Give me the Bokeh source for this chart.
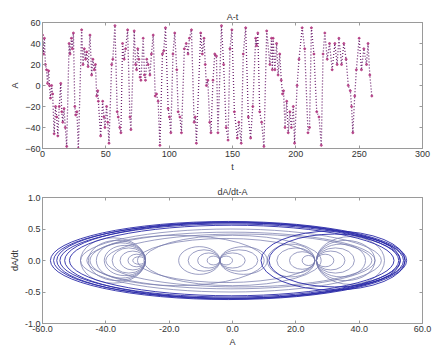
from bokeh.plotting import figure
from bokeh.layouts import column
from bokeh.models import LinearAxis, FixedTicker, ColumnDataSource
from bokeh.embed import file_html
from bokeh.resources import INLINE

# ---------------- data ----------------
# top panel: turning points of A(t)
t_vals = [0, 0.8, 1.5, 2.3, 3.2, 4, 4.8, 5.5, 6.3, 7.2, 8.0, 9.2, 10.3, 11.2, 12.1, 13.2, 14.4,
          15.2, 16.0, 17.0, 18.0, 19.1, 21.0, 21.8, 22.8, 23.6, 24.4, 25.5, 26.2, 27.2, 28.3,
          30.9, 32.0, 33.0, 34.0, 34.9, 36.0, 37.5, 38.8, 39.8, 40.9, 41.8, 42.8, 43.6, 44.1,
          45.9, 47.5, 48.5, 49.3, 50.6, 51.5, 52.5, 54.6, 55.5, 57.2, 59.0, 59.8, 61.0, 61.9,
          63.2, 64.5, 65.6, 67.2, 69.0, 69.8, 72.4, 73.5, 74.3, 75.2, 76.1, 77.0, 77.7, 79.5,
          80.5, 81.3, 82.3, 83.4, 84.8, 86.0, 87.4, 89.0, 90.0, 91.3, 92.7, 94.7, 95.7, 97.1,
          99.2, 100.2, 101.3, 103.0, 104.4, 106.0, 107.1, 108.5, 109.7, 112.0, 113.5, 114.9,
          116.0, 117.6, 119.7, 120.6, 121.5, 124.9, 126.2, 127.5, 128.5, 129.4, 130.5, 132.0,
          133.0, 134.6, 136.0, 137.3, 138.5, 141.3, 143.0, 145.0, 146.5, 148.0, 149.5, 151.5,
          153.8, 155.0, 156.9, 158.5, 160.4, 162.5, 164.3, 166.0, 168.3, 169.0, 170.0, 171.5,
          173.0, 174.8, 177.0, 179.5, 180.8, 181.5, 182.1, 183.5, 184.8, 186.0, 187.3, 188.5,
          189.5, 190.3, 191.5, 192.8, 194.0, 195.3, 196.5, 198.0, 199.0, 201.0, 202.5, 205.0,
          207.0, 209.6, 210.8, 212.3, 214.3, 216.5, 218.3, 220.1, 221.5, 222.9, 224.8, 226.6,
          228.7, 230.8, 232.6, 234.0, 236.1, 237.9, 239.7, 241.4, 243.0, 244.0, 245.0, 246.5,
          247.8, 250.0, 251.8, 253.7, 255.8, 257.0, 258.4, 260.0]
A_vals = [48, 30, 45, 20, 15, 2, 14, 0, -12, 0, -8, -46, -20, -30, -48, -20, 2,
          -25, -35, -22, -40, -58, 40, 30, 45, 35, 50, -20, -28, -25, -60,
          53, 20, 35, 25, 32, 18, 48, 10, 25, 15, 20, -10, -5, -15,
          -48, -15, -30, -40, -20, -35, -55, 20, 25, 57, -25, -30, -40, -45,
          40, 25, 35, 53, -30, -42, 52, 20, 15, 35, 25, 8, 5, 45,
          10, 5, 25, 20, 10, 30, 48, -10, -8, -15, -57, 30, 33, 55,
          -22, -30, -45, 30, 50, 15, -25, -30, -45, 35, 40, 30,
          45, 53, -35, -30, -55, 50, 30, 45, 20, 0, 5, -35,
          -45, 5, 30, 28, -45, 57, 20, -40, -52, 35, 53, -25,
          -50, -35, -55, 30, 55, -30, -50, -20, 45, 38, 50, -25,
          -35, -58, 52, 20, 45, 15, 45, 15, 40, 10, 30, 5,
          -8, -5, -40, -15, -45, -25, -40, -20, -55, 0, 25, 55,
          35, -45, -40, 55, 30, -25, -30, -57, 30, 50, 25, 40,
          15, 40, 20, 45, 20, 40, 25, 0, -5, -20, -45, -10,
          15, 45, 15, 35, 20, 40, 10, -10]

t_ticks = [0, 50, 100, 150, 200, 250, 300]
A_ticks = [-60, -40, -20, 0, 20, 40, 60]

# bottom panel: closed orbits in the (A, dA/dt) plane: left edge, right edge, peak dA/dt
outer_left = [-57.5, -56.5, -55.5, -54.5, -53.0, -51.5, 9.0, 11.5]
outer_right = [55.0, 54.5, 54.0, 53.0, 52.5, 51.0, 54.5, 53.0]
outer_vmax = [0.62, 0.60, 0.61, 0.58, 0.60, 0.56, 0.47, 0.42]

inner_left = [-31.5, -33.0, -35.5, -38.0, -40.5, -43.0, -45.5, -48.0,
              -8.0, -11.0, -14.0, -17.0, -4.0, -4.0, -4.0, -4.0,
              22.0, 18.0, 14.0, 11.0, 26.5, 26.5, 26.5, 26.5, 26.5, 26.5,
              -48.0, -46.0, -40.0, -30.0, -28.0, -45.0]
inner_right = [-27.5, -27.5, -27.5, -27.5, -27.5, -27.5, -27.5, -27.5,
               -4.0, -4.0, -4.0, -4.0, 0.0, 4.0, 8.0, 11.0,
               26.0, 26.0, 26.0, 26.0, 32.0, 35.5, 38.5, 42.0, 45.0, 48.0,
               47.0, 45.0, 44.0, 26.0, 28.0, 10.0]
inner_vmax = [0.06, 0.10, 0.15, 0.20, 0.24, 0.28, 0.32, 0.36,
              0.07, 0.12, 0.17, 0.22, 0.07, 0.12, 0.17, 0.22,
              0.08, 0.14, 0.20, 0.26, 0.10, 0.15, 0.20, 0.26, 0.32, 0.38,
              0.50, 0.45, 0.42, 0.35, 0.40, 0.40]

x2_ticks = [-60, -40, -20, 0, 20, 40, 60]
x2_labels = ["-60.0", "-40.0", "-20.0", "0.0", "20.0", "40.0", "60.0"]
y2_ticks = [-1.0, -0.5, 0.0, 0.5, 1.0]
y2_labels = ["-1.0", "-0.5", "0.0", "0.5", "1.0"]

FONT = "Liberation Sans"
TXT = "#333333"
FRAME = "#9a9a9a"


def style(p, xt, yt, xl=None, yl=None):
    p.grid.visible = False
    p.outline_line_color = FRAME
    p.title.align = "center"
    p.title.text_font = FONT
    p.title.text_font_size = "9px"
    p.title.text_font_style = "normal"
    p.title.text_color = TXT
    p.title.standoff = 2
    for ax in p.xaxis:
        ax.ticker = FixedTicker(ticks=xt)
        if xl:
            ax.major_label_overrides = {k: v for k, v in zip(xt, xl)}
    for ax in p.yaxis:
        ax.ticker = FixedTicker(ticks=yt)
        if yl:
            ax.major_label_overrides = {k: v for k, v in zip(yt, yl)}
    for ax in p.xaxis + p.yaxis:
        ax.axis_line_color = FRAME
        ax.major_tick_line_color = FRAME
        ax.major_tick_in = 3
        ax.major_tick_out = 0
        ax.minor_tick_line_color = None
        ax.major_label_text_font = FONT
        ax.major_label_text_font_size = "9px"
        ax.major_label_text_color = TXT
        ax.axis_label_text_font = FONT
        ax.axis_label_text_font_size = "9px"
        ax.axis_label_text_font_style = "normal"
        ax.axis_label_text_color = TXT
        ax.major_label_standoff = 2
        ax.axis_label_standoff = 2
    # mirrored inward ticks on top and right (no labels)
    for loc, tk in (("above", xt), ("right", yt)):
        a = LinearAxis(ticker=FixedTicker(ticks=tk))
        a.axis_line_color = FRAME
        a.major_tick_line_color = FRAME
        a.major_tick_in = 3
        a.major_tick_out = 0
        a.minor_tick_line_color = None
        a.major_label_text_color = None
        a.major_label_text_font_size = "1px"
        a.major_label_standoff = 0
        p.add_layout(a, loc)


# ---------------- top panel ----------------
p1 = figure(width=432, height=176, x_range=(0, 300), y_range=(-60, 60),
            title="A-t", output_backend="svg", toolbar_location=None,
            min_border_left=41, min_border_right=10, min_border_top=22, min_border_bottom=28)
p1.xaxis.axis_label = "t"
p1.yaxis.axis_label = "A"
src1 = ColumnDataSource(dict(t=t_vals, A=A_vals))
p1.line("t", "A", source=src1, line_color="#6e2470", line_width=1.3, line_dash="1 2")
p1.scatter("t", "A", source=src1, size=2, color="#b0357e", alpha=0.8)
style(p1, t_ticks, A_ticks)

# ---------------- bottom panel ----------------
p2 = figure(width=432, height=176, x_range=(-60, 60), y_range=(-1, 1),
            title="dA/dt-A", output_backend="svg", toolbar_location=None,
            min_border_left=42, min_border_right=9, min_border_top=21, min_border_bottom=29)
p2.xaxis.axis_label = "A"
p2.yaxis.axis_label = "dA/dt"


def orbit_source(left, right, vmax):
    return ColumnDataSource(dict(
        x=[(a + b) / 2 for a, b in zip(left, right)],
        y=[0.0] * len(left),
        w=[b - a for a, b in zip(left, right)],
        h=[2 * v for v in vmax],
    ))


p2.ellipse("x", "y", width="w", height="h", source=orbit_source(inner_left, inner_right, inner_vmax),
           fill_alpha=0, line_color="#7478ac", line_width=0.8, line_alpha=0.9)
p2.ellipse("x", "y", width="w", height="h", source=orbit_source(outer_left, outer_right, outer_vmax),
           fill_alpha=0, line_color="#2a2aa8", line_width=0.9)
style(p2, x2_ticks, y2_ticks, x2_labels, y2_labels)

layout = column(p1, p2, spacing=0)
open("out.html", "w").write(file_html(layout, INLINE))
